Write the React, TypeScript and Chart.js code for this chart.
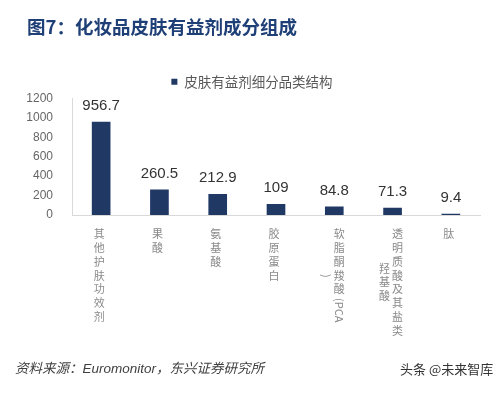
import React, { useEffect, useRef } from "react";
import { Chart, registerables } from "chart.js";

Chart.register(...registerables);

const titleText = "图7：化妆品皮肤有益剂成分组成";
const sourceText = "资料来源：Euromonitor，东兴证券研究所";
const watermarkText = "头条 @未来智库";
const seriesName = "皮肤有益剂细分品类结构";

// Each category label: first entry is the main column, second (if any) the wrapped column
const categoryLabels: string[][] = [
  ["其他护肤功效剂"],
  ["果酸"],
  ["氨基酸"],
  ["胶原蛋白"],
  ["软脂酮羧酸(PCA", ")"],
  ["透明质酸及其盐类", "羟基酸"],
  ["肽"],
];
const values: number[] = [956.7, 260.5, 212.9, 109, 84.8, 71.3, 9.4];
const valueLabels: string[] = ["956.7", "260.5", "212.9", "109", "84.8", "71.3", "9.4"];
const yTicks: number[] = [0, 200, 400, 600, 800, 1000, 1200];

const BAR_COLOR = "#1f3864";
const STEP = 13.8;
const isCJK = (c: string) => /[\u3000-\u9fff\uff00-\uffef]/.test(c);

function columnHeight(ctx: CanvasRenderingContext2D, text: string) {
  const chars = Array.from(text);
  let h = 0;
  let i = 0;
  while (i < chars.length) {
    if (isCJK(chars[i])) {
      h += STEP;
      i++;
    } else {
      let run = "";
      while (i < chars.length && !isCJK(chars[i])) run += chars[i++];
      h += ctx.measureText(run).width + 4;
    }
  }
  return h;
}

function drawColumn(ctx: CanvasRenderingContext2D, text: string, x: number, y0: number) {
  const chars = Array.from(text);
  let y = y0;
  let i = 0;
  while (i < chars.length) {
    if (isCJK(chars[i])) {
      ctx.textAlign = "center";
      ctx.textBaseline = "middle";
      ctx.fillText(chars[i], x, y + STEP / 2);
      y += STEP;
      i++;
    } else {
      let run = "";
      while (i < chars.length && !isCJK(chars[i])) run += chars[i++];
      const w = ctx.measureText(run).width;
      ctx.save();
      ctx.translate(x, y);
      ctx.rotate(Math.PI / 2);
      ctx.textAlign = "left";
      ctx.textBaseline = "middle";
      ctx.fillText(run, 2, 0);
      ctx.restore();
      y += w + 4;
    }
  }
}

const labelPlugin = {
  id: "labelPlugin",
  afterDatasetsDraw(chart: any) {
    const ctx: CanvasRenderingContext2D = chart.ctx;
    const meta = chart.getDatasetMeta(0);
    ctx.save();
    ctx.font = '15px "Liberation Sans", Arial, sans-serif';
    ctx.fillStyle = "#333333";
    ctx.textAlign = "center";
    ctx.textBaseline = "alphabetic";
    meta.data.forEach((bar: any, i: number) => {
      ctx.fillText(valueLabels[i], bar.x, bar.y - 12);
    });

    const xs = chart.scales.x;
    ctx.font = '11px "Noto Sans CJK SC", sans-serif';
    ctx.fillStyle = "#8a8a8a";
    const yStart = xs.top + 19 - STEP / 2;
    (chart.data.labels as string[][]).forEach((cols, i) => {
      const cx = xs.getPixelForValue(i);
      if (cols.length === 1) {
        drawColumn(ctx, cols[0], cx - 2, yStart);
      } else {
        const hMain = columnHeight(ctx, cols[0]);
        drawColumn(ctx, cols[0], cx + 5, yStart);
        const hLeft = columnHeight(ctx, cols[1]);
        drawColumn(ctx, cols[1], cx - 8, yStart + (hMain - hLeft) / 2);
      }
    });
    ctx.restore();
  },
};

export default function App() {
  const canvasRef = useRef<HTMLCanvasElement | null>(null);

  useEffect(() => {
    if (!canvasRef.current) return;
    const chart = new Chart(canvasRef.current, {
      type: "bar",
      data: {
        labels: categoryLabels,
        datasets: [
          {
            label: seriesName,
            data: values,
            backgroundColor: BAR_COLOR,
            borderWidth: 0,
            barThickness: 18,
          },
        ],
      },
      options: {
        responsive: false,
        animation: false,
        devicePixelRatio: 1,
        layout: { padding: { top: 72, left: 24, right: 23, bottom: 178 } },
        plugins: {
          legend: {
            display: true,
            position: "top",
            labels: {
              boxWidth: 6,
              boxHeight: 6,
              padding: 3,
              color: "#595959",
              font: { size: 13.5, family: '"Noto Sans CJK SC", sans-serif' },
            },
          },
          tooltip: { enabled: false },
        },
        scales: {
          x: {
            grid: { display: false, drawTicks: false },
            border: { color: "#d9d9d9", width: 1 },
            ticks: { display: false },
            afterFit: (s: any) => {
              s.height = 0;
            },
          },
          y: {
            min: 0,
            max: 1200,
            afterBuildTicks: (s: any) => {
              s.ticks = yTicks.map((v) => ({ value: v }));
            },
            grid: { display: false, drawTicks: false },
            border: { color: "#d9d9d9", width: 1 },
            ticks: {
              padding: 19,
              color: "#666666",
              font: { size: 12, family: '"Liberation Sans", Arial, sans-serif' },
              callback: (v: any) => String(v),
            },
            afterFit: (s: any) => {
              s.width = 48;
            },
          },
        },
      },
      plugins: [labelPlugin],
    });
    return () => chart.destroy();
  }, []);

  return (
    <div
      style={{
        position: "fixed",
        left: 0,
        top: 0,
        width: 503,
        height: 393,
        background: "#ffffff",
        overflow: "hidden",
      }}
    >
      <canvas ref={canvasRef} width={503} height={393} style={{ position: "absolute", left: 0, top: 0 }} />
      <div
        style={{
          position: "absolute",
          left: 27,
          top: 16,
          fontFamily: '"Noto Sans CJK SC", sans-serif',
          fontWeight: 700,
          fontSize: 18.5,
          lineHeight: "20px",
          color: "#1f3f77",
          whiteSpace: "nowrap",
        }}
      >
        {titleText}
      </div>
      <div
        style={{
          position: "absolute",
          left: 15,
          top: 361,
          fontFamily: '"Liberation Sans", "Noto Sans CJK SC", sans-serif',
          fontStyle: "italic",
          fontSize: 13.5,
          lineHeight: "16px",
          color: "#404040",
          whiteSpace: "nowrap",
        }}
      >
        {sourceText}
      </div>
      <div
        style={{
          position: "absolute",
          left: 400,
          top: 361,
          fontFamily: '"Noto Sans CJK SC", sans-serif',
          fontSize: 13,
          lineHeight: "16px",
          color: "#333333",
          whiteSpace: "nowrap",
        }}
      >
        {watermarkText}
      </div>
    </div>
  );
}
